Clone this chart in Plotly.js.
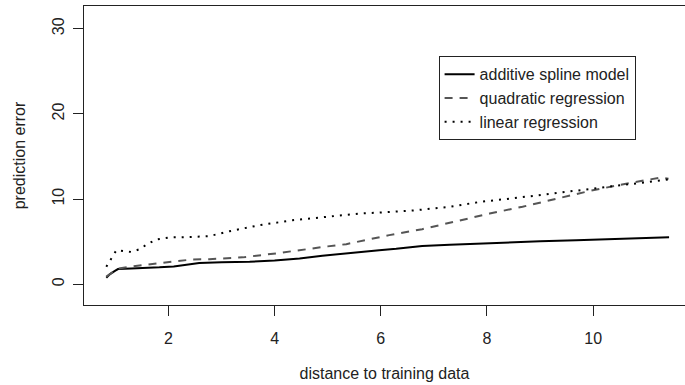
<!DOCTYPE html>
<html>
<head>
<meta charset="utf-8">
<script src="https://cdn.plot.ly/plotly-3.0.1.min.js"></script>
<style>html,body{margin:0;padding:0;background:#fff;}#chart{width:685px;height:385px;}</style>
</head>
<body>
<div id="chart"></div>
<script>
// Data
const splineX = [0.83, 0.9, 1.0, 1.05, 1.3, 1.6, 1.83, 2.1, 2.58, 3.0, 3.53, 4.0, 4.47, 4.9, 5.41, 5.97, 6.29, 6.78, 7.3, 7.86, 8.42, 9.0, 9.68, 10.43, 11.0, 11.43];
const splineY = [0.77, 1.2, 1.6, 1.79, 1.85, 1.9, 1.99, 2.1, 2.5, 2.6, 2.65, 2.8, 3.04, 3.35, 3.7, 4.01, 4.16, 4.5, 4.65, 4.8, 4.98, 5.05, 5.18, 5.33, 5.45, 5.53];

const quadX = [0.83, 0.95, 1.05, 1.27, 1.64, 2.0, 2.45, 2.77, 3.4, 4.03, 4.34, 4.66, 5.0, 5.35, 5.85, 6.16, 6.78, 7.42, 8.05, 8.67, 9.3, 9.93, 10.62, 11.0, 11.25, 11.42];
const quadY = [0.9, 1.4, 1.85, 2.06, 2.34, 2.6, 2.92, 2.95, 3.16, 3.63, 3.9, 4.21, 4.45, 4.71, 5.38, 5.77, 6.47, 7.4, 8.3, 9.1, 10.06, 10.95, 11.81, 12.2, 12.5, 12.4];

const linX = [0.83, 0.92, 1.02, 1.15, 1.3, 1.45, 1.6, 1.77, 2.02, 2.4, 2.77, 3.15, 3.71, 4.34, 5.0, 5.6, 5.98, 6.66, 7.3, 7.86, 8.5, 9.18, 9.68, 10.43, 11.0, 11.42];
const linY = [2.06, 3.0, 4.0, 3.9, 3.8, 4.1, 4.7, 5.26, 5.5, 5.55, 5.65, 6.23, 6.93, 7.52, 7.95, 8.3, 8.42, 8.69, 9.1, 9.66, 10.1, 10.6, 11.0, 11.6, 12.0, 12.3];

const seriesNames = ["additive spline model", "quadratic regression", "linear regression"];
const xTicks = [2, 4, 6, 8, 10];
const yTicks = [0, 10, 20, 30];

const FONT = "Liberation Sans, Arial, sans-serif";
const traces = [
  {x: splineX, y: splineY, name: seriesNames[0], mode: "lines", line: {color: "#000", width: 2, dash: "solid"}},
  {x: quadX, y: quadY, name: seriesNames[1], mode: "lines", line: {color: "#555", width: 2, dash: "8px,7px"}},
  {x: linX, y: linY, name: seriesNames[2], mode: "lines", line: {color: "#000", width: 2, dash: "2px,6px"}}
];

const layout = {
  width: 685, height: 385,
  margin: {l: 84, r: 0, t: 6, b: 80, pad: 0},
  paper_bgcolor: "#fff", plot_bgcolor: "#fff",
  font: {family: FONT, size: 16, color: "#222"},
  showlegend: true,
  legend: {
    x: 0.59, y: 0.832, xanchor: "left", yanchor: "top",
    bgcolor: "#fff", bordercolor: "#222", borderwidth: 1,
    font: {family: FONT, size: 16, color: "#222"},
    tracegroupgap: 0, itemwidth: 30
  },
  xaxis: {
    range: [0.41, 11.73], tickvals: xTicks, ticktext: xTicks.map(String),
    ticks: "outside", ticklen: 10, tickwidth: 1, tickcolor: "#222",
    ticklabelstandoff: 9,
    showline: true, linecolor: "#222", linewidth: 1, mirror: true,
    showgrid: false, zeroline: false,
    tickfont: {family: FONT, size: 16, color: "#222"},
    title: {text: "distance to training data", standoff: 21, font: {family: FONT, size: 16, color: "#222"}},
    automargin: false
  },
  yaxis: {
    range: [-2.43, 32.66], tickvals: yTicks, ticktext: yTicks.map(String),
    ticks: "outside", ticklen: 10, tickwidth: 1, tickcolor: "#222", tickangle: -90,
    ticklabelstandoff: 3,
    showline: true, linecolor: "#222", linewidth: 1, mirror: false,
    showgrid: false, zeroline: false,
    tickfont: {family: FONT, size: 16, color: "#222"},
    title: {text: "prediction error", standoff: 19, font: {family: FONT, size: 16, color: "#222"}},
    automargin: false
  }
};

Plotly.newPlot("chart", traces, layout, {staticPlot: true, displayModeBar: false});
</script>
</body>
</html>
